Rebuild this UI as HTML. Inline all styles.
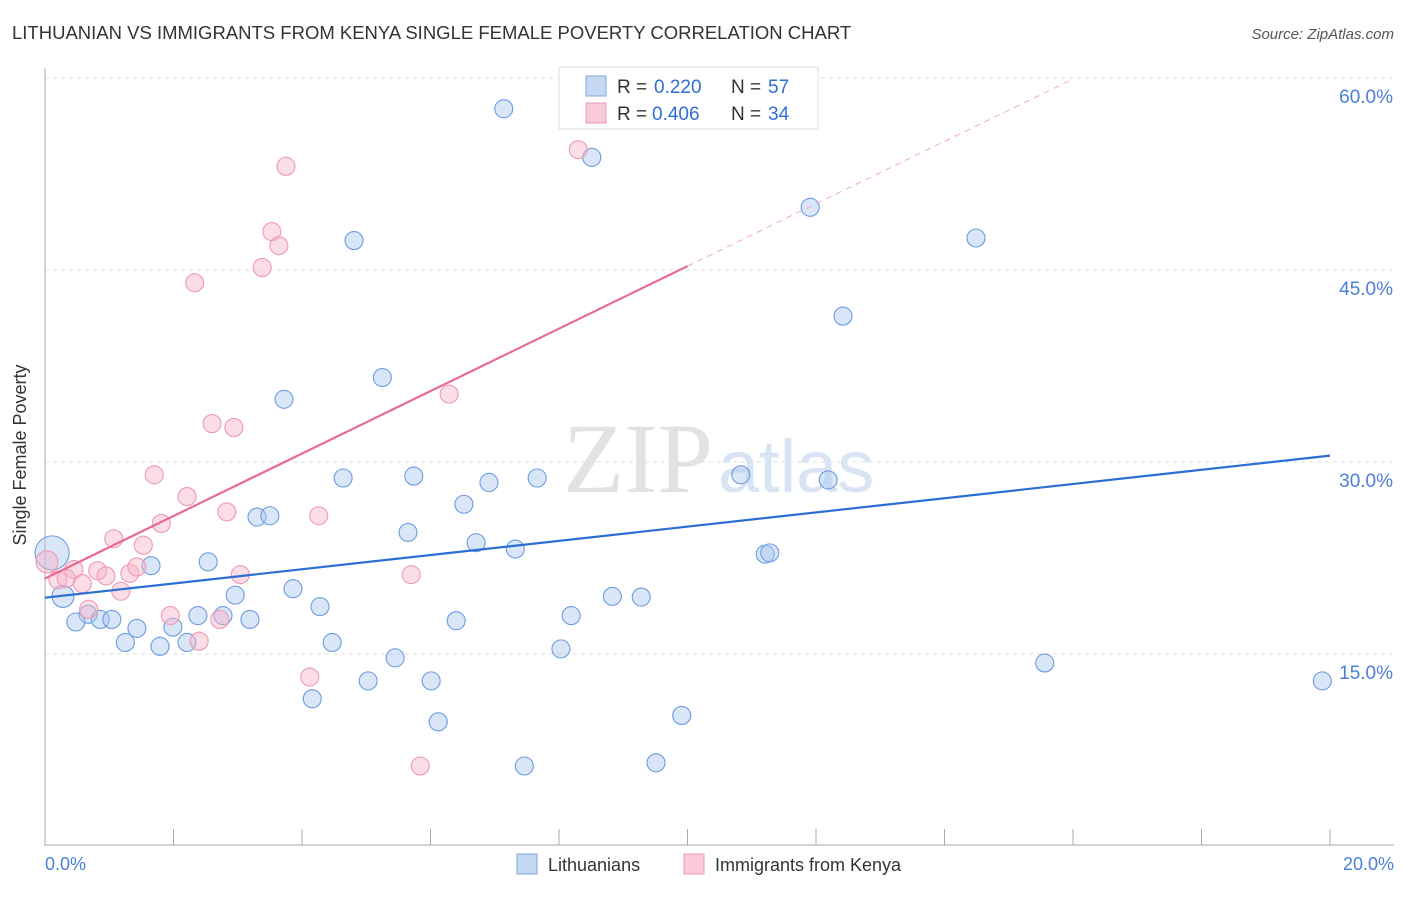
<!DOCTYPE html>
<html><head><meta charset="utf-8"><style>
body{margin:0;background:#fff;font-family:"Liberation Sans",sans-serif}
</style></head><body>
<svg width="1406" height="892" xmlns="http://www.w3.org/2000/svg" style="font-family:'Liberation Sans',sans-serif">
<text x="12" y="39" font-size="18.5" fill="#333">LITHUANIAN VS IMMIGRANTS FROM KENYA SINGLE FEMALE POVERTY CORRELATION CHART</text>
<text x="1394" y="39" font-size="15" fill="#555" font-style="italic" text-anchor="end">Source: ZipAtlas.com</text>
<g id="grid"></g>
<text x="713" y="492" font-size="100" fill="#e2e2e2" text-anchor="end" font-family="Liberation Serif">ZIP</text>
<text x="718" y="492" font-size="74" fill="#d8e4f4">atlas</text>
<line x1="45" y1="68" x2="45" y2="846" stroke="#aaa"/>
<line x1="45" y1="845" x2="1394" y2="845" stroke="#aaa"/>
<g id="ticks"></g>
<g id="pts"></g>
<g id="trend"></g>
<text x="26" y="455" font-size="18" fill="#333" text-anchor="middle" transform="rotate(-90 26 455)">Single Female Poverty</text>
<text x="45" y="870" font-size="18" fill="#4a7fd6">0.0%</text>
<text x="1394" y="870" font-size="18" fill="#4a7fd6" text-anchor="end">20.0%</text>
<g>
<rect x="559" y="67" width="259" height="62" fill="#fff" stroke="#ddd"/>
<rect x="586" y="76" width="20" height="20" fill="#c5d9f5" stroke="#7ea6e0"/>
<rect x="586" y="103" width="20" height="20" fill="#f9cbd8" stroke="#ec9ab4"/>
<text x="617" y="93" font-size="19" fill="#333">R =</text>
<text x="654" y="93" font-size="19" fill="#2e6fd6">0.220</text>
<text x="731" y="93" font-size="19" fill="#333">N =</text>
<text x="768" y="93" font-size="19" fill="#2e6fd6">57</text>
<text x="617" y="120" font-size="19" fill="#333">R =</text>
<text x="652" y="120" font-size="19" fill="#2e6fd6">0.406</text>
<text x="731" y="120" font-size="19" fill="#333">N =</text>
<text x="768" y="120" font-size="19" fill="#2e6fd6">34</text>
</g>
<g>
<rect x="517" y="854" width="20" height="20" fill="#c5d9f5" stroke="#7ea6e0"/>
<text x="548" y="871" font-size="18" fill="#333">Lithuanians</text>
<rect x="684" y="854" width="20" height="20" fill="#f9cbd8" stroke="#ec9ab4"/>
<text x="715" y="871" font-size="18" fill="#333">Immigrants from Kenya</text>
</g>
</svg>
<script>
const yTicks=[15,30,45,60];
const yTickLabels=["15.0%","30.0%","45.0%","60.0%"];
const xTicks=[0,2,4,6,8,10,12,14,16,18,20];
const blueX=[7.14,8.51,11.91,4.81,14.49,12.42,5.25,3.72,10.83,12.19,4.64,5.74,6.91,7.66,6.52,3.30,3.50,5.65,6.71,7.32,11.21,11.28,0.11,2.54,1.65,0.28,3.86,2.96,8.83,9.28,4.28,0.67,0.48,0.86,1.04,2.38,2.77,3.19,8.19,6.40,1.99,1.43,1.25,1.79,2.21,4.47,8.03,5.45,15.56,5.03,6.01,19.88,4.16,6.12,9.91,7.46,9.51];
const blueY=[57.6,53.8,49.9,47.3,47.5,41.4,36.6,34.9,29.0,28.6,28.75,28.9,28.4,28.75,26.7,25.7,25.8,24.5,23.7,23.2,22.8,22.9,22.9,22.2,21.9,19.5,20.1,19.6,19.5,19.45,18.7,18.1,17.5,17.7,17.7,18.0,18.0,17.7,18.0,17.6,17.1,17.0,15.9,15.6,15.9,15.9,15.4,14.7,14.3,12.9,12.9,12.9,11.5,9.7,10.2,6.25,6.5];
const pinkX=[8.30,3.75,3.53,3.64,3.38,2.33,6.29,2.60,2.94,1.70,2.21,2.83,4.26,1.81,1.07,1.53,0.03,0.45,0.82,1.32,1.43,0.95,3.04,5.70,0.20,0.58,1.18,0.68,1.95,2.72,2.40,4.12,5.84,0.33];
const pinkY=[54.4,53.1,48.0,46.9,45.2,44.0,35.3,33.0,32.7,29.0,27.3,26.1,25.8,25.2,24.0,23.5,22.2,21.6,21.5,21.3,21.8,21.1,21.2,21.2,20.8,20.5,19.9,18.5,18.0,17.7,16.0,13.2,6.25,20.9];
const blueTrend=[19.4,30.5];
const pinkTrend=[20.9,45.3,59.8];
const X=v=>45+v*64.25, Y=v=>846-v*12.8;
const NS="http://www.w3.org/2000/svg";
function mk(t,a,p){const e=document.createElementNS(NS,t);for(const k in a)e.setAttribute(k,a[k]);p.appendChild(e);return e;}
const grid=document.getElementById('grid');
yTicks.forEach((v,i)=>{
 const l=mk('line',{x1:45,x2:1394,y1:Y(v),y2:Y(v),stroke:'#ddd','stroke-dasharray':'4,4'},grid);
 
 
 const t=mk('text',{x:1393,y:Y(v)+25,'font-size':19,fill:'#4a7fd6','text-anchor':'end'},grid);
 t.textContent=yTickLabels[i];
 
 
});
const ticks=document.getElementById('ticks');
xTicks.forEach(v=>{const l=mk('line',{x1:X(v),x2:X(v),y1:829,y2:845,stroke:'#aaa'},ticks);
 
 });
const pts=document.getElementById('pts');
blueX.forEach((x,i)=>{const r=(i==22)?17:(i==25?11:9);
 const c=mk('circle',{cx:X(x),cy:Y(blueY[i]),r:r,fill:'rgba(170,200,240,0.45)',stroke:'#6c9be0','stroke-width':1.1},pts);
 
 });
pinkX.forEach((x,i)=>{const r=(i==16)?11:9;
 const c=mk('circle',{cx:X(x),cy:Y(pinkY[i]),r:r,fill:'rgba(246,180,200,0.45)',stroke:'#ee9ab4','stroke-width':1.1},pts);
 
 });
const tr=document.getElementById('trend');
let b=mk('line',{x1:X(0),y1:Y(blueTrend[0]),x2:X(20),y2:Y(blueTrend[1]),stroke:'#2b6fd4','stroke-width':2.2},tr);


let p=mk('line',{x1:X(0),y1:Y(pinkTrend[0]),x2:X(10),y2:Y(pinkTrend[1]),stroke:'#e86a95','stroke-width':2.2},tr);


let d=mk('line',{x1:X(10),y1:Y(pinkTrend[1]),x2:X(15.95),y2:Y(pinkTrend[2]),stroke:'#eeaac0','stroke-width':1,'stroke-dasharray':'6,5'},tr);


</script>
</body></html>
